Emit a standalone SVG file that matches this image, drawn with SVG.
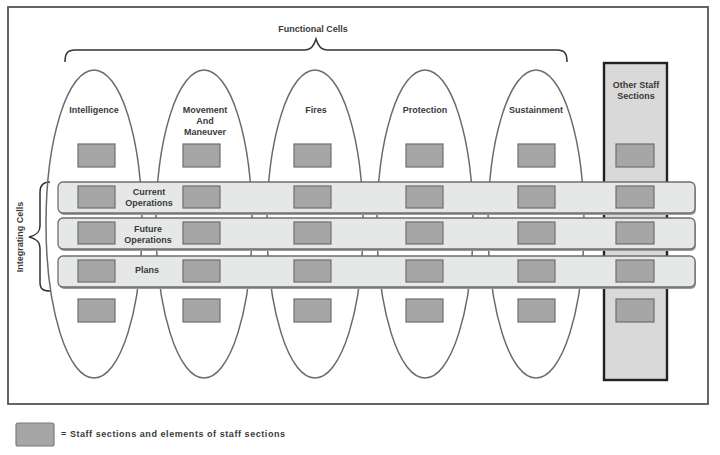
<svg xmlns="http://www.w3.org/2000/svg" width="720" height="455" viewBox="0 0 720 455">
<style>
text{font-family:"Liberation Sans",Arial,sans-serif;font-weight:bold;font-size:9px;fill:#3a3a3a;text-anchor:middle}
.cell{fill:none;stroke:#6a6a6a;stroke-width:1.5}
.band{fill:#e6e8e8;stroke:#6e6e6e;stroke-width:1.3}
.shadow{fill:#9a9a9a;stroke:none}
.box{fill:#a6a6a6;stroke:#6e6e6e;stroke-width:1.2}
.brace{fill:none;stroke:#333;stroke-width:1.5}
</style>
<rect width="720" height="455" fill="#fff"/>
<rect x="8" y="7" width="700" height="397" fill="#fff" stroke="#555" stroke-width="1.8"/>

<g id="functional-cells-label">
<path class="brace" d="M65,62 C65,54 67,50 75,50 L305,50 C311,50 314,46 316,39 C318,46 321,50 327,50 L557,50 C565,50 567,54 567,62"/>
<text x="313" y="32">Functional Cells</text>
</g>

<g id="integrating-cells-label">
<path class="brace" d="M50,182 C43,182 40,185 40,192 L40,226 C40,232 37,235 29,237 C37,239 40,242 40,248 L40,282 C40,289 43,291 50,291"/>
<text transform="translate(23,237) rotate(-90)">Integrating Cells</text>
</g>

<g id="intelligence"><ellipse class="cell" cx="94" cy="224" rx="48" ry="154"/><text x="94" y="113">Intelligence</text></g>
<g id="movement"><ellipse class="cell" cx="204" cy="224" rx="48" ry="154"/><text x="205" y="113">Movement</text><text x="205" y="124">And</text><text x="205" y="135">Maneuver</text></g>
<g id="fires"><ellipse class="cell" cx="315" cy="224" rx="48" ry="154"/><text x="316" y="113">Fires</text></g>
<g id="protection"><ellipse class="cell" cx="425" cy="224" rx="48" ry="154"/><text x="425" y="113">Protection</text></g>
<g id="sustainment"><ellipse class="cell" cx="536" cy="224" rx="48" ry="154"/><text x="536" y="113">Sustainment</text></g>
<g id="other-staff"><rect x="604" y="63" width="63" height="317" fill="#d9d9d9" stroke="#222" stroke-width="2.4"/><text x="636" y="88">Other Staff</text><text x="636" y="99">Sections</text></g>

<g id="current-operations">
<rect class="shadow" x="59" y="184" width="637" height="31" rx="5"/>
<rect class="band" x="58" y="182" width="637" height="31" rx="5"/>
<text x="149" y="195">Current</text><text x="149" y="206">Operations</text>
</g>
<g id="future-operations">
<rect class="shadow" x="59" y="220" width="637" height="31" rx="5"/>
<rect class="band" x="58" y="218" width="637" height="31" rx="5"/>
<text x="148" y="232">Future</text><text x="148" y="243">Operations</text>
</g>
<g id="plans">
<rect class="shadow" x="59" y="258" width="637" height="31" rx="5"/>
<rect class="band" x="58" y="256" width="637" height="31" rx="5"/>
<text x="147" y="273">Plans</text>
</g>

<g id="staff-boxes">
<rect class="box" x="78" y="144" width="37" height="23"/>
<rect class="box" x="183" y="144" width="37" height="23"/>
<rect class="box" x="294" y="144" width="37" height="23"/>
<rect class="box" x="406" y="144" width="37" height="23"/>
<rect class="box" x="518" y="144" width="37" height="23"/>
<rect class="box" x="616" y="144" width="38" height="23"/>

<rect class="box" x="78" y="186" width="37" height="22"/>
<rect class="box" x="183" y="186" width="37" height="22"/>
<rect class="box" x="294" y="186" width="37" height="22"/>
<rect class="box" x="406" y="186" width="37" height="22"/>
<rect class="box" x="518" y="186" width="37" height="22"/>
<rect class="box" x="616" y="186" width="38" height="22"/>

<rect class="box" x="78" y="222" width="37" height="22"/>
<rect class="box" x="183" y="222" width="37" height="22"/>
<rect class="box" x="294" y="222" width="37" height="22"/>
<rect class="box" x="406" y="222" width="37" height="22"/>
<rect class="box" x="518" y="222" width="37" height="22"/>
<rect class="box" x="616" y="222" width="38" height="22"/>

<rect class="box" x="78" y="260" width="37" height="22"/>
<rect class="box" x="183" y="260" width="37" height="22"/>
<rect class="box" x="294" y="260" width="37" height="22"/>
<rect class="box" x="406" y="260" width="37" height="22"/>
<rect class="box" x="518" y="260" width="37" height="22"/>
<rect class="box" x="616" y="260" width="38" height="22"/>

<rect class="box" x="78" y="299" width="37" height="23"/>
<rect class="box" x="183" y="299" width="37" height="23"/>
<rect class="box" x="294" y="299" width="37" height="23"/>
<rect class="box" x="406" y="299" width="37" height="23"/>
<rect class="box" x="518" y="299" width="37" height="23"/>
<rect class="box" x="616" y="299" width="38" height="23"/>
</g>

<g id="legend">
<rect x="16" y="423" width="38" height="23" rx="2" fill="#a6a6a6" stroke="#7a7a7a" stroke-width="1.2"/>
<text x="61" y="437" style="text-anchor:start" textLength="224">= Staff sections and elements of staff sections</text>
</g>
</svg>
